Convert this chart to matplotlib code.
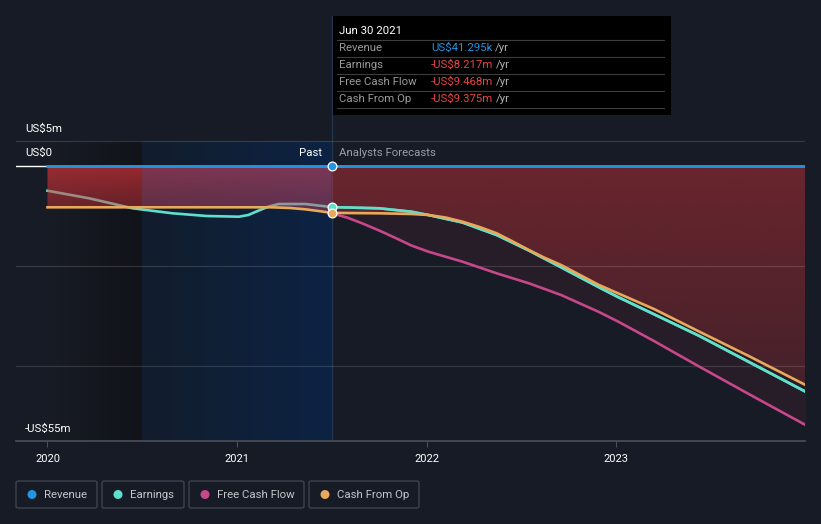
import numpy as np
import matplotlib
matplotlib.use("Agg")
import matplotlib.pyplot as plt
from matplotlib.patches import Rectangle, FancyBboxPatch, PathPatch, Ellipse

plt.rcParams['font.family'] = ['Roboto', 'DejaVu Sans']

# ---------------- data (US$ millions) ----------------
rev_x = [2020.0, 2020.5, 2021.0, 2021.5, 2022.0, 2023.0, 2024.0]
rev_y = [0.04, 0.04, 0.04, 0.04, 0.04, 0.04, 0.04]

earn_x = [2020.0, 2020.22, 2020.45, 2020.66, 2020.84, 2021.01, 2021.06, 2021.10,
          2021.16, 2021.22, 2021.36, 2021.5,
          2021.75, 2021.92, 2022.01, 2022.19, 2022.37, 2022.54, 2022.71,
          2022.91, 2023.01, 2023.44, 2024.0]
earn_y = [-4.94, -6.46, -8.46, -9.46, -10.0, -10.14, -9.8, -9.14,
          -8.2, -7.6, -7.6, -8.217,
          -8.46, -9.14, -9.8, -11.3, -13.8, -16.9, -20.26,
          -24.26, -26.2, -34.0, -45.14]

fcf_x = [2021.5, 2021.58, 2021.66, 2021.75, 2021.84, 2021.92, 2022.01, 2022.19,
         2022.37, 2022.54, 2022.71, 2022.91, 2023.01, 2023.2, 2023.44, 2023.7, 2024.0]
fcf_y = [-9.468, -10.3, -11.46, -12.9, -14.46, -15.9, -17.14, -19.14,
         -21.46, -23.46, -25.8, -29.2, -31.1, -35.0, -40.14, -45.6, -51.8]

cfo_x = [2020.0, 2020.5, 2021.0, 2021.18, 2021.28, 2021.36, 2021.43, 2021.5,
         2021.75, 2021.92, 2022.01, 2022.1, 2022.19, 2022.28, 2022.37, 2022.45,
         2022.54, 2022.62, 2022.71, 2022.91, 2023.2, 2023.44, 2023.7, 2024.0]
cfo_y = [-8.26, -8.26, -8.26, -8.26, -8.4, -8.66, -9.0, -9.375,
         -9.46, -9.6, -9.8, -10.3, -11.14, -12.2, -13.46, -15.0,
         -16.8, -18.3, -19.8, -23.8, -28.6, -33.14, -38.0, -43.8]

x_ticks = [2020, 2021, 2022, 2023]
x_tick_labels = ["2020", "2021", "2022", "2023"]
y_labels = ["US$5m", "US$0", "-US$55m"]

tooltip_date = "Jun 30 2021"
tooltip_names = ["Revenue", "Earnings", "Free Cash Flow", "Cash From Op"]
tooltip_vals = ["US$41.295k", "-US$8.217m", "-US$9.468m", "-US$9.375m"]

legend_names = ["Revenue", "Earnings", "Free Cash Flow", "Cash From Op"]

# ---------------- style ----------------
BG = "#161b25"
C_REV = "#2394df"
C_EARN = "#5fe0cc"
C_FCF = "#c8468a"
C_CFO = "#e8a95a"

W, H = 821, 524
fig = plt.figure(figsize=(W / 100, H / 100), dpi=100, facecolor=BG)

def fx(px):
    return px / W

def fy(py):
    return 1 - py / H

ax_l, ax_r, ax_t, ax_b = 16, 805, 16, 441
ax = fig.add_axes([fx(ax_l), fy(ax_b), fx(ax_r) - fx(ax_l), fy(ax_t) - fy(ax_b)])
ax.set_facecolor(BG)
XMIN, XMAX = 2019.834, 2023.997
YMIN, YMAX = -55, 30
for s in ax.spines.values():
    s.set_visible(False)
ax.set_yticks([])
ax.set_xticks(x_ticks)
ax.set_xticklabels(x_tick_labels, color="white", fontsize=8)
ax.tick_params(axis='x', length=4, color="#4a505b", pad=5)

PAST = 2021.5
HL_START = 2020.5
SHADE_TOP = 5

# background shading: darker region 2020-2020.5, blue highlight 2020.5-2021.5
n = 200
g1 = np.linspace(0, 1, n)
dark = np.zeros((1, n, 4))
c0 = np.array([24, 28, 36]) / 255
c1 = np.array([17, 19, 25]) / 255
for i, t in enumerate(g1):
    dark[0, i, :3] = c0 * (1 - t) + c1 * t
    dark[0, i, 3] = 1
ax.imshow(dark, extent=[2020.0, HL_START, YMIN, SHADE_TOP], aspect='auto', zorder=0.5)
blue = np.zeros((1, n, 4))
b0 = np.array([18, 29, 44]) / 255
b1 = np.array([12, 35, 68]) / 255
for i, t in enumerate(g1):
    blue[0, i, :3] = b0 * (1 - t) + b1 * t
    blue[0, i, 3] = 1
ax.imshow(blue, extent=[HL_START, PAST, YMIN, SHADE_TOP], aspect='auto', zorder=0.5)

# zero white baseline (left stub) and gridlines
ax.axhline(0, color="white", lw=1.0, zorder=0.8)
for gy in [5, -20, -40]:
    ax.axhline(gy, color=(1, 1, 1, 0.13), lw=0.9, zorder=3)
ax.axhline(YMIN, color="#4a505b", lw=1.2, zorder=3, clip_on=False)

# earnings line (past part drawn below the fill)
ax.plot(earn_x, earn_y, color=C_EARN, lw=1.9, zorder=2)

# red gradient fill between revenue and cash from op
xs = np.array(cfo_x)
rev_i = np.interp(xs, rev_x, rev_y)
poly = ax.fill_between(xs, rev_i, cfo_y, color='none', lw=0)
path = poly.get_paths()[0]
patch = PathPatch(path, facecolor='none', edgecolor='none', transform=ax.transData)
ax.add_patch(patch)
nx, ny = 800, 200
gx = np.linspace(2020.0, 2024.0, nx)
gy_ = np.linspace(1, -46, ny)
img = np.zeros((ny, nx, 4))
red = np.array([220, 52, 58]) / 255
purple = np.array([200, 70, 100]) / 255
m_dark = gx < HL_START
m_hl = (gx >= HL_START) & (gx < PAST)
m_fc = gx >= PAST
for j, yv in enumerate(gy_):
    d = abs(min(yv, 0))
    img[j, m_dark, :3] = red
    img[j, m_dark, 3] = max(0.66 - 0.03 * d, 0.3)
    img[j, m_hl, :3] = purple
    img[j, m_hl, 3] = max(0.60 - 0.02 * d, 0.3)
    img[j, m_fc, :3] = red
    img[j, m_fc, 3] = max(0.42 - 0.004 * d, 0.2)
im = ax.imshow(img, extent=[2020.0, 2024.0, -46, 1], aspect='auto', zorder=2.5)
im.set_clip_path(patch)

# faint fill between cash from op and FCF in forecast
fx_ = np.array(fcf_x)
cfo_i = np.interp(fx_, cfo_x, cfo_y)
ax.fill_between(fx_, cfo_i, fcf_y, color=(0.8, 0.2, 0.3, 0.09), lw=0, zorder=2.4)

ax.set_xlim(XMIN, XMAX)
ax.set_ylim(YMIN, YMAX)

# lines on top
ax.plot(fcf_x, fcf_y, color=C_FCF, lw=1.9, zorder=4)
ex = [x for x in earn_x if x >= PAST]
ey = [y for x, y in zip(earn_x, earn_y) if x >= PAST]
ax.plot(ex, ey, color=C_EARN, lw=1.9, zorder=4.1)
ax.plot(cfo_x, cfo_y, color=C_CFO, lw=1.9, zorder=4.2)
ax.plot(rev_x, rev_y, color=C_REV, lw=2.0, zorder=4.5)

# past divider line
ax.axvline(PAST, color="#24344e", lw=1.0, zorder=1)

# markers at Jun 30 2021
ax.scatter([PAST], [rev_y[3]], s=40, color=C_REV, edgecolor="white", lw=0.9, zorder=6)
ax.scatter([PAST], [-8.217], s=40, color=C_EARN, edgecolor="white", lw=0.9, zorder=6)
ax.scatter([PAST], [-9.375], s=40, color=C_CFO, edgecolor="white", lw=0.9, zorder=6.1)

# Past / Analysts Forecasts labels
fig.text(fx(322), fy(153), "Past", color="white", fontsize=8.2, ha='right', va='center')
fig.text(fx(339), fy(153), "Analysts Forecasts", color="#9a9ea6", fontsize=8.2, ha='left', va='center')

# y labels
fig.text(fx(25), fy(129), y_labels[0], color="white", fontsize=8.2, va='center')
fig.text(fx(25), fy(153), y_labels[1], color="white", fontsize=8.2, va='center')
fig.text(fx(25), fy(429), y_labels[2], color="white", fontsize=8.2, va='center')

# tooltip
fig.patches.append(Rectangle((fx(333), fy(115)), fx(671) - fx(333), fy(16) - fy(115),
                             transform=fig.transFigure, facecolor="black", edgecolor="none", zorder=10))
fig.text(fx(339), fy(31), tooltip_date, color="white", fontsize=8.2, va='center', zorder=11)
rows_y = [48, 65, 82, 99]
seps = [40, 57, 74, 91, 108]
for sy in seps:
    fig.lines.append(plt.Line2D([fx(337), fx(664)], [fy(sy), fy(sy)], transform=fig.transFigure,
                                color="#3c3c3c", lw=0.8, zorder=11))
fig.canvas.draw()
for i, (nm, val) in enumerate(zip(tooltip_names, tooltip_vals)):
    fig.text(fx(339), fy(rows_y[i]), nm, color="#9a9a9a", fontsize=8.2, va='center', zorder=11)
    vcol = C_REV if i == 0 else "#e84545"
    t = fig.text(fx(431), fy(rows_y[i]), val, color=vcol, fontsize=8.2, va='center', zorder=11)
    bb = t.get_window_extent(renderer=fig.canvas.get_renderer())
    fig.text(bb.x1 / W + fx(3), fy(rows_y[i]), "/yr", color="#b0b0b0", fontsize=8.2, va='center', zorder=11)

# legend boxes
boxes = [(16, 97), (102, 184), (189, 304), (309, 419)]
leg_colors = [C_REV, C_EARN, C_FCF, C_CFO]
for (x0, x1), nm, c in zip(boxes, legend_names, leg_colors):
    fig.patches.append(FancyBboxPatch((fx(x0), fy(508)), fx(x1) - fx(x0), fy(481) - fy(508),
                                      boxstyle="round,pad=0,rounding_size=0.003",
                                      transform=fig.transFigure, facecolor="none",
                                      edgecolor="#3e434d", lw=1.0))
    fig.patches.append(Ellipse((fx(x0 + 16), fy(494.5)), fx(9), 9 / H,
                               transform=fig.transFigure, facecolor=c, edgecolor='none'))
    fig.text(fx(x0 + 28), fy(494.5), nm, color="#c4c7cc", fontsize=8.2, va='center')

fig.savefig("out.png", dpi=100, facecolor=BG)
